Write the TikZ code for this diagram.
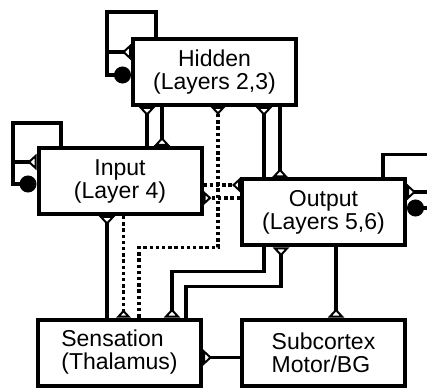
\documentclass[tikz,border=0pt]{standalone}
\usepackage{fontspec}
\setmainfont{Liberation Sans}
\usetikzlibrary{arrows.meta}
\begin{document}
\begin{tikzpicture}[x=.5pt,y=-.5pt,line join=miter,
  area/.style={draw,line width=2pt,fill=white,inner sep=0pt,minimum width=81.5pt,
    minimum height=33pt,align=center,font=\fontsize{11.5}{11.5}\selectfont},
  exc/.style={line width=1.6pt,-{Triangle[reversed,fill=white,length=4.5pt,width=8pt,line width=1pt]}},
  inh/.style={line width=1.6pt,-{Circle[length=8.5pt]}},
  weak/.style={line width=1.7pt,dash pattern=on 1.7pt off 1.4pt,
    -{Triangle[reversed,fill=white,length=4pt,width=7pt,line width=1pt]}}]
\useasboundingbox (0,0) rectangle (427,389);
\clip (0,0) rectangle (427,389);

\node[area] (hid) at (214.5,72) {Hidden\\(Layers 2,3)};
\node[area] (inp) at (120,181) {Input\\(Layer 4)};
\node[area] (out) at (323.5,212.5) {Output\\(Layers 5,6)};
\node[area,align=left] (sen) at (119.5,352.5) {Sensation\\(Thalamus)};
\node[area,align=left] (sub) at (323.5,352.5) {Subcortex\\Motor/BG};

% self loops
\draw[inh] ([xshift=-29.25pt]hid.north) |- ++(-49,-25) coordinate (hl) |- ([yshift=-1.5pt]hid.west);
\draw[exc] ([yshift=10pt]hid.west -| hl) -- ([yshift=10pt]hid.west);
\draw[inh] ([xshift=-29.5pt]inp.north) |- ++(-48,-23) coordinate (il) |- ([yshift=-1.5pt]inp.west);
\draw[exc] ([yshift=9.5pt]inp.west -| il) -- ([yshift=9.5pt]inp.west);
\draw[inh] ([xshift=29.75pt]out.north) |- ++(49,-23) coordinate (ol) |- ([yshift=2.25pt]out.east);
\draw[exc] ([yshift=10.25pt]out.east -| ol) -- ([yshift=10.25pt]out.east);

% hidden <-> input, output
\draw[exc] ([xshift=13.5pt]inp.north) -- ([xshift=13.5pt]inp.north |- hid.south);
\draw[exc] ([xshift=21pt]inp.north |- hid.south) -- ([xshift=21pt]inp.north);
\draw[exc] ([xshift=-29.75pt]out.north) -- ([xshift=-29.75pt]out.north |- hid.south);
\draw[exc] ([xshift=-21.75pt]out.north |- hid.south) -- ([xshift=-21.75pt]out.north);

% thalamus
\draw[exc] ([xshift=-6.25pt]sen.north) -- ([xshift=-6.25pt]sen.north |- inp.south);
\draw[weak] ([xshift=1.75pt]inp.south) -- ([xshift=1.75pt]inp.south |- sen.north);
\draw[weak] ([xshift=9.75pt]sen.north) -- ++(0,-70) -| ([xshift=1.75pt]hid.south);
\draw[exc] ([xshift=-29.75pt]out.south) -- ++(0,24) -| ([xshift=26.25pt]sen.north);
\draw[exc] ([xshift=33.25pt]sen.north) -- ++(0,-31) -| ([xshift=-21.25pt]out.south);

% input <-> output
\draw[weak] ([yshift=-2pt]inp.east) -- ([yshift=-2pt]inp.east -| out.west);
\draw[weak] ([yshift=-8.5pt]inp.east -| out.west) -- ([yshift=-8.5pt]inp.east);

% subcortex
\draw[exc] ([xshift=6.25pt]out.south) -- ([xshift=6.25pt]out.south |- sub.north);
\draw[exc] ([yshift=-2.5pt]sub.west) -- ([yshift=-2.5pt]sub.west -| sen.east);
\end{tikzpicture}
\end{document}
